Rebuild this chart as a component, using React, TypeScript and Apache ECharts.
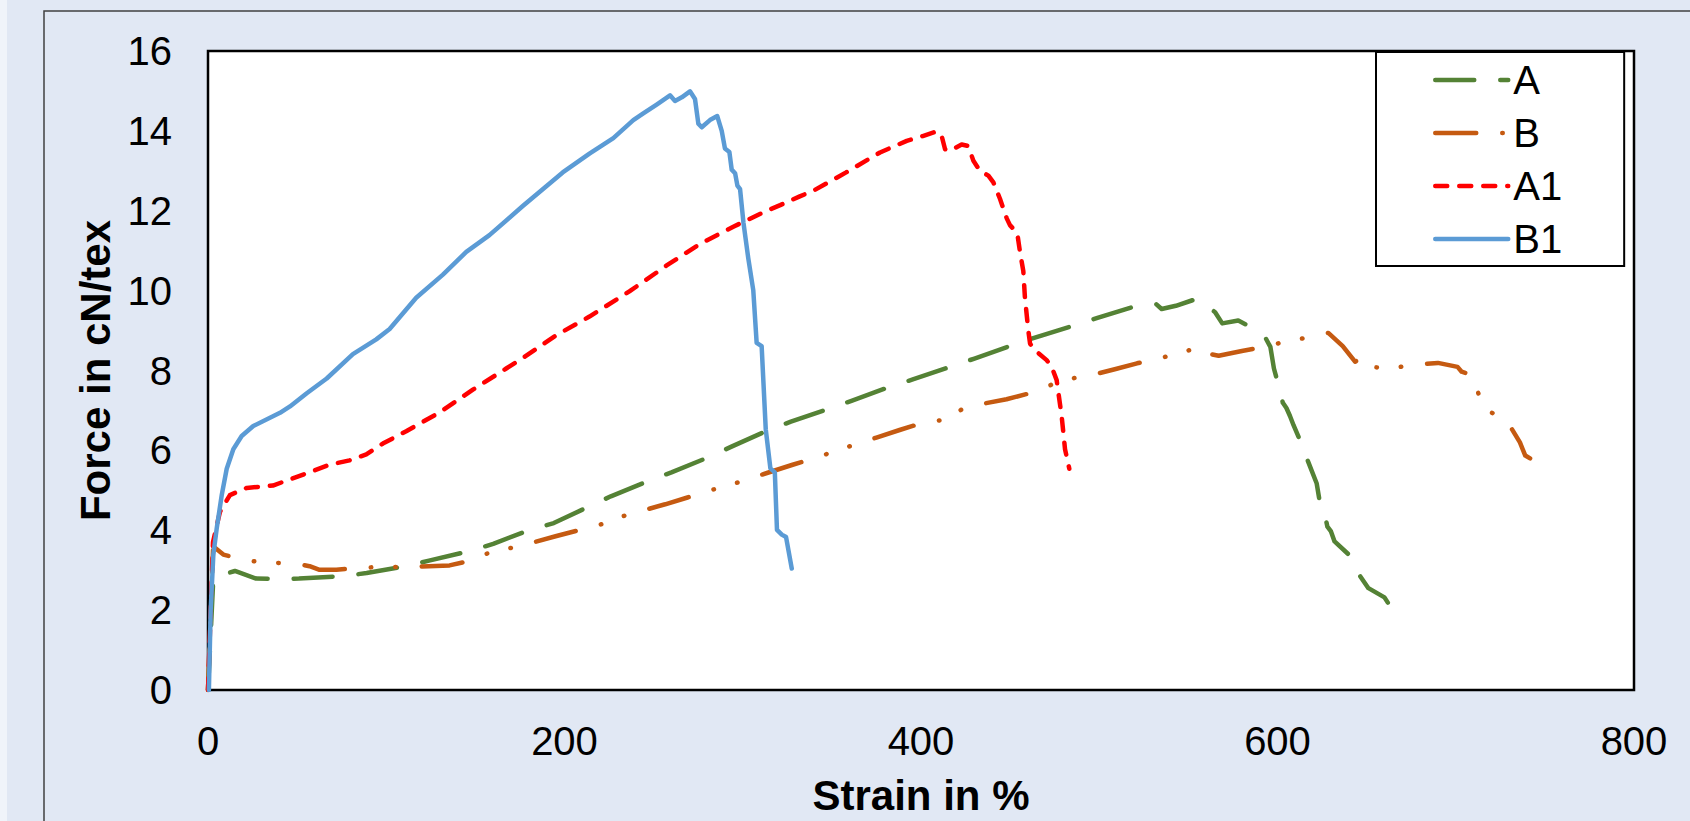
import React, { useEffect, useRef } from "react";
import * as echarts from "echarts";

const xTicks = [0, 200, 400, 600, 800];
const yTicks = [0, 2, 4, 6, 8, 10, 12, 14, 16];

const seriesNames = ["A", "B", "A1", "B1"];

const aStrain = [0, 3, 15.1, 27, 38.5, 51, 76, 89, 111, 124, 147, 160, 180, 194, 214, 226, 248, 260, 282, 294, 314, 327, 348, 361, 383, 395, 417, 430, 451, 463, 486, 499, 521, 532, 535, 543, 555, 562, 565, 569, 578, 589, 593, 596, 598, 601, 603, 605, 607, 609, 614, 615, 617, 622, 624, 626, 628, 630, 632, 640, 643, 645, 651, 660, 663, 666];
const aForce = [0, 2.81, 2.98, 2.79, 2.78, 2.79, 2.85, 2.93, 3.1, 3.24, 3.48, 3.66, 4.0, 4.18, 4.6, 4.85, 5.25, 5.45, 5.85, 6.1, 6.5, 6.72, 7.04, 7.24, 7.6, 7.77, 8.1, 8.3, 8.63, 8.81, 9.13, 9.32, 9.62, 9.66, 9.54, 9.62, 9.8, 9.56, 9.46, 9.18, 9.25, 9.0, 8.84, 8.59, 8.05, 7.56, 7.19, 7.06, 6.86, 6.63, 6.11, 5.87, 5.74, 5.17, 4.63, 4.5, 4.09, 3.97, 3.72, 3.39, 3.14, 2.94, 2.55, 2.32, 2.11, 1.99];

const bStrain = [0, 2.8, 3.9, 8.6, 21.5, 34.6, 47.7, 57, 62.6, 72, 84, 98, 111, 135.5, 147.7, 159.8, 173, 195, 208, 221.5, 234, 256.5, 269, 281, 294, 314, 328, 341.5, 353.6, 375, 388, 401, 413.5, 423, 435, 448, 461, 473.5, 486, 496, 508.7, 521.2, 533.5, 547.6, 554.5, 555.6, 567, 580, 593, 603, 615, 628.5, 636.6, 643.5, 646, 652, 655, 663, 676, 690, 701, 703.3, 709, 713, 719, 729.5, 736, 739, 741.7];
const bForce = [0, 3.5, 3.56, 3.39, 3.24, 3.19, 3.17, 3.1, 3.01, 3.01, 3.06, 3.08, 3.08, 3.12, 3.24, 3.48, 3.58, 3.85, 4.0, 4.16, 4.37, 4.65, 4.82, 4.99, 5.15, 5.44, 5.64, 5.82, 6.01, 6.32, 6.51, 6.69, 6.77, 7.03, 7.17, 7.28, 7.43, 7.65, 7.81, 7.89, 8.03, 8.18, 8.3, 8.47, 8.56, 8.47, 8.37, 8.49, 8.59, 8.71, 8.81, 8.94, 8.61, 8.22, 8.28, 8.01, 8.08, 8.05, 8.14, 8.19, 8.09, 7.97, 7.89, 7.39, 6.98, 6.68, 6.2, 5.87, 5.8];

const a1Strain = [0, 2.8, 6.7, 12.3, 15.9, 21.7, 36.4, 49.5, 68.2, 79.4, 88.8, 98.1, 111.2, 129.9, 148.6, 167.3, 176.6, 195.3, 214, 236.4, 257.3, 276, 294.7, 313.4, 321, 332, 340, 358, 377, 392, 401, 409, 411.6, 413.5, 416.3, 422.8, 426.5, 429.4, 433.1, 437.8, 440.6, 444.3, 448.1, 449.9, 454, 455.5, 457.4, 458.3, 460.2, 461.2, 464.9, 470.5, 473.3, 476.1, 478.9, 480.8, 483.2];
const a1Force = [0, 3.7, 4.46, 4.88, 4.95, 5.06, 5.12, 5.33, 5.64, 5.75, 5.9, 6.17, 6.48, 6.95, 7.52, 8.05, 8.31, 8.88, 9.35, 9.98, 10.63, 11.17, 11.6, 12.0, 12.14, 12.36, 12.51, 12.96, 13.46, 13.75, 13.87, 13.99, 13.87, 13.54, 13.5, 13.66, 13.62, 13.25, 13.0, 12.88, 12.71, 12.3, 11.81, 11.64, 11.44, 10.98, 10.49, 9.83, 9.0, 8.67, 8.47, 8.26, 8.09, 7.76, 6.86, 6.03, 5.54];

const b1Strain = [0.5, 1.5, 3.0, 4.9, 7.7, 10.5, 14.2, 18.9, 25.4, 40.4, 46, 55.4, 66.6, 81.3, 94.4, 101.9, 116.8, 131.8, 144.9, 157.9, 176.6, 199, 214, 227.4, 238.6, 244.2, 251.7, 259.2, 262, 265.8, 270.4, 273.2, 275.1, 277, 281.6, 285.7, 288.2, 290, 292.5, 293.8, 295.7, 297, 298.5, 300.4, 303.1, 305.9, 307.8, 310.6, 312.9, 315.5, 318, 319.2, 321.9, 324.3, 327.5];
const b1Force = [0, 2.0, 3.39, 4.05, 4.88, 5.54, 6.03, 6.36, 6.61, 6.94, 7.1, 7.43, 7.8, 8.41, 8.78, 9.04, 9.82, 10.4, 10.97, 11.39, 12.12, 12.96, 13.43, 13.82, 14.27, 14.44, 14.66, 14.89, 14.75, 14.84, 14.99, 14.8, 14.18, 14.09, 14.27, 14.37, 14.0, 13.56, 13.47, 13.03, 12.94, 12.63, 12.54, 11.7, 10.81, 10.01, 8.69, 8.61, 6.53, 5.55, 5.45, 4.01, 3.89, 3.83, 3.04];

const pair = (xs: number[], ys: number[]) => xs.map((x, i) => [x, ys[i]]);

const FONT = "'Liberation Sans', Arial, sans-serif";
const LW = 4.5;

export default function App() {
  const ref = useRef<HTMLDivElement>(null);

  useEffect(() => {
    if (!ref.current) return;
    const chart = echarts.init(ref.current, null, { renderer: "svg" });
    const colors = ["#548235", "#C55A11", "#FF0000", "#5B9BD5"];
    const dashes: any[] = [[39, 26], [41, 26, 0.5, 24, 0.5, 26], [12, 12], "solid"];
    const datas = [pair(aStrain, aForce), pair(bStrain, bForce), pair(a1Strain, a1Force), pair(b1Strain, b1Force)];
    chart.setOption({
      animation: false,
      backgroundColor: "#E1E8F4",
      textStyle: { fontFamily: FONT },
      graphic: [
        { type: "rect", z: -10, shape: { x: 0, y: 0, width: 7, height: 821 }, style: { fill: "#F0F4FA" }, silent: true },
        { type: "rect", z: -10, shape: { x: 44, y: 11, width: 1700, height: 900 }, style: { fill: "none", stroke: "#404040", lineWidth: 1.5 }, silent: true },
      ],
      grid: {
        left: 208,
        top: 51,
        right: 56,
        bottom: 124,
        show: true,
        backgroundColor: "#fff",
        borderColor: "#000",
        borderWidth: 2.5,
        z: 1,
      },
      legend: {
        data: seriesNames.map((n, i) => ({
          name: n,
          itemStyle: { opacity: 0 },
          lineStyle: { width: LW, color: colors[i], type: dashes[i], cap: "round" },
        })),
        orient: "vertical",
        left: 1376,
        top: 52,
        padding: [8, 62, 7, 57],
        itemWidth: 73,
        itemHeight: 14,
        itemGap: 13,
        borderColor: "#000",
        borderWidth: 2,
        backgroundColor: "#fff",
        itemStyle: { opacity: 0 },
        textStyle: { fontSize: 40, lineHeight: 40, color: "#000", fontFamily: FONT },
        selectedMode: false,
      },
      xAxis: {
        type: "value",
        min: xTicks[0],
        max: xTicks[xTicks.length - 1],
        interval: xTicks[1] - xTicks[0],
        name: "Strain in %",
        nameLocation: "middle",
        nameGap: 84,
        nameTextStyle: { fontSize: 42, fontWeight: "bold", color: "#000", fontFamily: FONT },
        axisLine: { show: false },
        axisTick: { show: false },
        axisLabel: { fontSize: 40, color: "#000", margin: 31, fontFamily: FONT },
        splitLine: { show: true, lineStyle: { color: "#D9D9D9", width: 2 } },
      },
      yAxis: {
        type: "value",
        min: yTicks[0],
        max: yTicks[yTicks.length - 1],
        interval: yTicks[1] - yTicks[0],
        name: "Force in cN/tex",
        nameLocation: "middle",
        nameGap: 92,
        nameTextStyle: { fontSize: 42, fontWeight: "bold", color: "#000", fontFamily: FONT },
        axisLine: { show: false },
        axisTick: { show: false },
        axisLabel: { fontSize: 40, color: "#000", margin: 36, fontFamily: FONT },
        splitLine: { show: true, lineStyle: { color: "#D9D9D9", width: 2 } },
      },
      series: seriesNames.map((name, i) => ({
        name,
        type: "line",
        data: datas[i],
        symbol: "none",
        showSymbol: false,
        smooth: false,
        color: colors[i],
        lineStyle: { width: LW, color: colors[i], type: dashes[i], cap: "round", join: "round" },
        itemStyle: { color: colors[i] },
        emphasis: { disabled: true },
      })),
    });
    return () => chart.dispose();
  }, []);

  return (
    <div
      ref={ref}
      style={{ position: "absolute", left: 0, top: 0, width: 1690, height: 821 }}
    />
  );
}
